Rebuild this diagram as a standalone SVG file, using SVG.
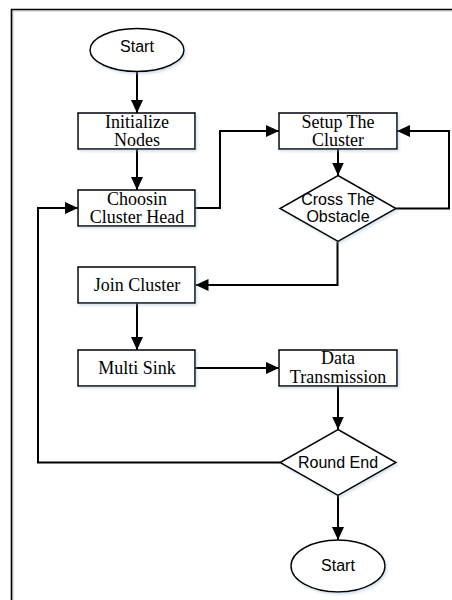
<svg xmlns="http://www.w3.org/2000/svg" width="452" height="600" viewBox="0 0 452 600">
<defs>
<marker id="arr" markerUnits="userSpaceOnUse" markerWidth="13" markerHeight="12" refX="13" refY="6" orient="auto">
<path d="M0,0 L13,6 L0,12 Z" fill="#000"/>
</marker>
<filter id="sh" x="-10%" y="-10%" width="130%" height="140%">
<feDropShadow dx="1.5" dy="2" stdDeviation="1.2" flood-color="#8fb0d0" flood-opacity="0.35"/>
</filter>
</defs>
<style>
.box{fill:#fff;stroke:#000;stroke-width:1.5;filter:url(#sh)}
.t{font-family:"Liberation Serif","Times New Roman",serif;font-size:18px;text-anchor:middle;fill:#000}
.s{font-family:"Liberation Sans",Arial,sans-serif;font-size:16px;text-anchor:middle;fill:#000}
.c{fill:none;stroke:#000;stroke-width:2;marker-end:url(#arr)}
</style>
<rect width="452" height="600" fill="#fff"/>
<path d="M13,602 V11 H452" fill="none" stroke="#c8c8c8" stroke-width="1"/>
<path d="M11.5,602 V9.5 H452" fill="none" stroke="#000" stroke-width="1.6"/>
<g id="connectors">
<path class="c" d="M137,71.5 V113"/>
<path class="c" d="M137,149 V190"/>
<path class="c" d="M195,208 H220 V131 H279"/>
<path class="c" d="M338,149 V175.5"/>
<path class="c" d="M395.5,208.5 H449 V131 H397"/>
<path class="c" d="M337.5,241.5 V285 H195.5"/>
<path class="c" d="M137,303 V350"/>
<path class="c" d="M195,368 H279"/>
<path class="c" d="M338,386 V429.5"/>
<path class="c" d="M280,462.5 H38 V208 H78"/>
<path class="c" d="M338,495.5 V540"/>
</g>
<g id="start"><ellipse class="box" cx="137" cy="50" rx="47" ry="21.5"/><text class="s" x="137" y="52">Start</text></g>
<g id="init"><rect class="box" x="78" y="113" width="117" height="36"/><text class="t" x="137" y="127.5">Initialize</text><text class="t" x="137" y="145.7">Nodes</text></g>
<g id="choose"><rect class="box" x="78" y="190" width="117" height="36"/><text class="t" x="137" y="204.5">Choosin</text><text class="t" x="137" y="222.7">Cluster Head</text></g>
<g id="setup"><rect class="box" x="279" y="113" width="118" height="36"/><text class="t" x="338" y="127.5">Setup The</text><text class="t" x="338" y="145.7">Cluster</text></g>
<g id="cross"><polygon class="box" points="338,175.5 396,208.5 338,241.5 280,208.5"/><text class="s" x="338" y="204.5">Cross The</text><text class="s" x="338" y="222">Obstacle</text></g>
<g id="join"><rect class="box" x="78" y="267" width="117" height="36"/><text class="t" x="137" y="290.7">Join Cluster</text></g>
<g id="multi"><rect class="box" x="78" y="350" width="117" height="36"/><text class="t" x="137" y="374">Multi Sink</text></g>
<g id="data"><rect class="box" x="279" y="350" width="118" height="36"/><text class="t" x="338" y="364.3">Data</text><text class="t" x="338" y="382.7">Transmission</text></g>
<g id="round"><polygon class="box" points="338,429.5 396,462.5 338,495.5 280,462.5"/><text class="s" x="338" y="468">Round End</text></g>
<g id="end"><ellipse class="box" cx="338" cy="566" rx="47" ry="26"/><text class="s" x="338" y="571">Start</text></g>
</svg>
